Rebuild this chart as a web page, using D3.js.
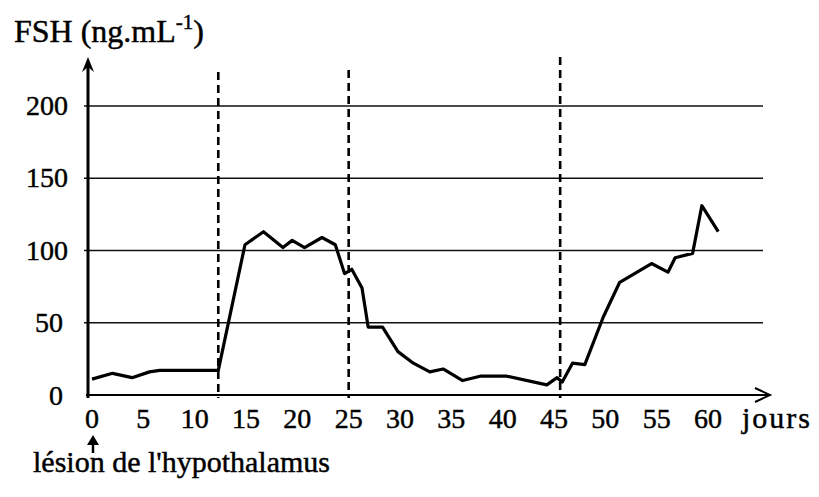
<!DOCTYPE html>
<html>
<head>
<meta charset="utf-8">
<script src="https://cdn.jsdelivr.net/npm/d3@7"></script>
<style>
  body { margin: 0; background: #fff; }
</style>
</head>
<body>
<svg width="819" height="497"></svg>
<script>
// days after the lesion and FSH level
var days = [0, 2, 3.9, 5.6, 6.6, 12.3, 14.9, 16.7, 18.6, 19.5, 20.7, 22.4, 23.7, 24.6, 25.3, 26.3, 26.9, 28.3,
            29.8, 31.3, 32.9, 34.2, 36.1, 37.8, 40.4, 44.3, 45.3, 45.8, 46.8, 48, 49.8, 51.4, 54.5, 56.1,
            56.8, 58.5, 59.4, 61]
var fsh  = [11, 15, 12, 16, 17, 17, 104, 113, 102, 107, 102, 109, 104, 84, 87, 74, 47, 47,
            30, 22, 16, 18, 10, 13, 13, 7, 12, 9, 22, 21, 54, 78, 91, 85,
            95, 98, 131, 113]
var xTicks = [0, 5, 10, 15, 20, 25, 30, 35, 40, 45, 50, 55, 60]
var yTicks = [0, 50, 100, 150, 200]
var phases = [12.3, 25, 45.6]

var svg = d3.select('svg')

var x = d3.scaleLinear().domain([0, 60]).range([92, 708])
var y = d3.scaleLinear().domain([0, 200]).range([395, 106])

function label(sel, size) {
  return sel.style('font-family', "'Liberation Serif'").style('font-size', (size || 28) + 'px')
    .style('fill', '#000').style('stroke', '#000').style('stroke-width', 0.45)
}

// horizontal grid
svg.append('g').selectAll('line')
  .data(yTicks.filter(v => v > 0))
  .enter().append('line')
  .attr('x1', 84).attr('x2', 763)
  .attr('y1', d => y(d)).attr('y2', d => y(d))
  .style('stroke', '#111').style('stroke-width', 1.4)

// dashed phase lines
var tops = [72, 70, 57]
svg.append('g').selectAll('line')
  .data(phases)
  .enter().append('line')
  .attr('x1', d => x(d)).attr('x2', d => x(d))
  .attr('y1', (d, i) => tops[i]).attr('y2', 398)
  .style('stroke', '#000').style('stroke-width', 2.6)
  .style('stroke-dasharray', '8,5')

// axes
svg.append('line').attr('x1', 88).attr('x2', 88).attr('y1', 398).attr('y2', 62)
  .style('stroke', '#000').style('stroke-width', 3)
svg.append('path').attr('d', 'M82,72 L88,57 L94,72 L88,67 Z').style('fill', '#000')
svg.append('line').attr('x1', 86).attr('x2', 768).attr('y1', 395).attr('y2', 395)
  .style('stroke', '#000').style('stroke-width', 2)
svg.append('path').attr('d', 'M755,388 L770,395 L755,402')
  .style('fill', 'none').style('stroke', '#000').style('stroke-width', 2)

// tick labels
svg.append('g').selectAll('text')
  .data(yTicks)
  .enter().append('text')
  .call(label)
  .attr('x', d => d < 100 ? 63 : 68)
  .attr('y', d => d === 0 ? 405 : y(d) + 9)
  .attr('text-anchor', 'end')
  .text(d => d)

svg.append('g').selectAll('text')
  .data(xTicks)
  .enter().append('text')
  .call(label)
  .attr('x', d => x(d))
  .attr('y', 428)
  .attr('text-anchor', 'middle')
  .text(d => d)

svg.append('text').call(label, 30).attr('x', 742).attr('y', 428)
  .style('letter-spacing', '2px').text('jours')

var title = svg.append('text').call(label, 32).attr('x', 14).attr('y', 42)
title.append('tspan').text('FSH (ng.mL')
title.append('tspan').attr('dy', -13).style('font-size', '21px').text('-1')
title.append('tspan').attr('dy', 13).text(')')

// lesion marker
svg.append('line').attr('x1', 93).attr('x2', 93).attr('y1', 444).attr('y2', 453)
  .style('stroke', '#000').style('stroke-width', 2.5)
svg.append('path').attr('d', 'M87,445 L93,435 L99,445 Z').style('fill', '#000')
svg.append('text').call(label, 30).attr('x', 33).attr('y', 472)
  .text("lésion de l'hypothalamus")

// FSH curve
var pts = days.map((d, i) => [d, fsh[i]])
svg.append('path')
  .datum(pts)
  .attr('d', d3.line().x(d => x(d[0])).y(d => y(d[1])))
  .style('fill', 'none').style('stroke', '#000')
  .style('stroke-width', 3.2).style('stroke-linejoin', 'round')
</script>
</body>
</html>
